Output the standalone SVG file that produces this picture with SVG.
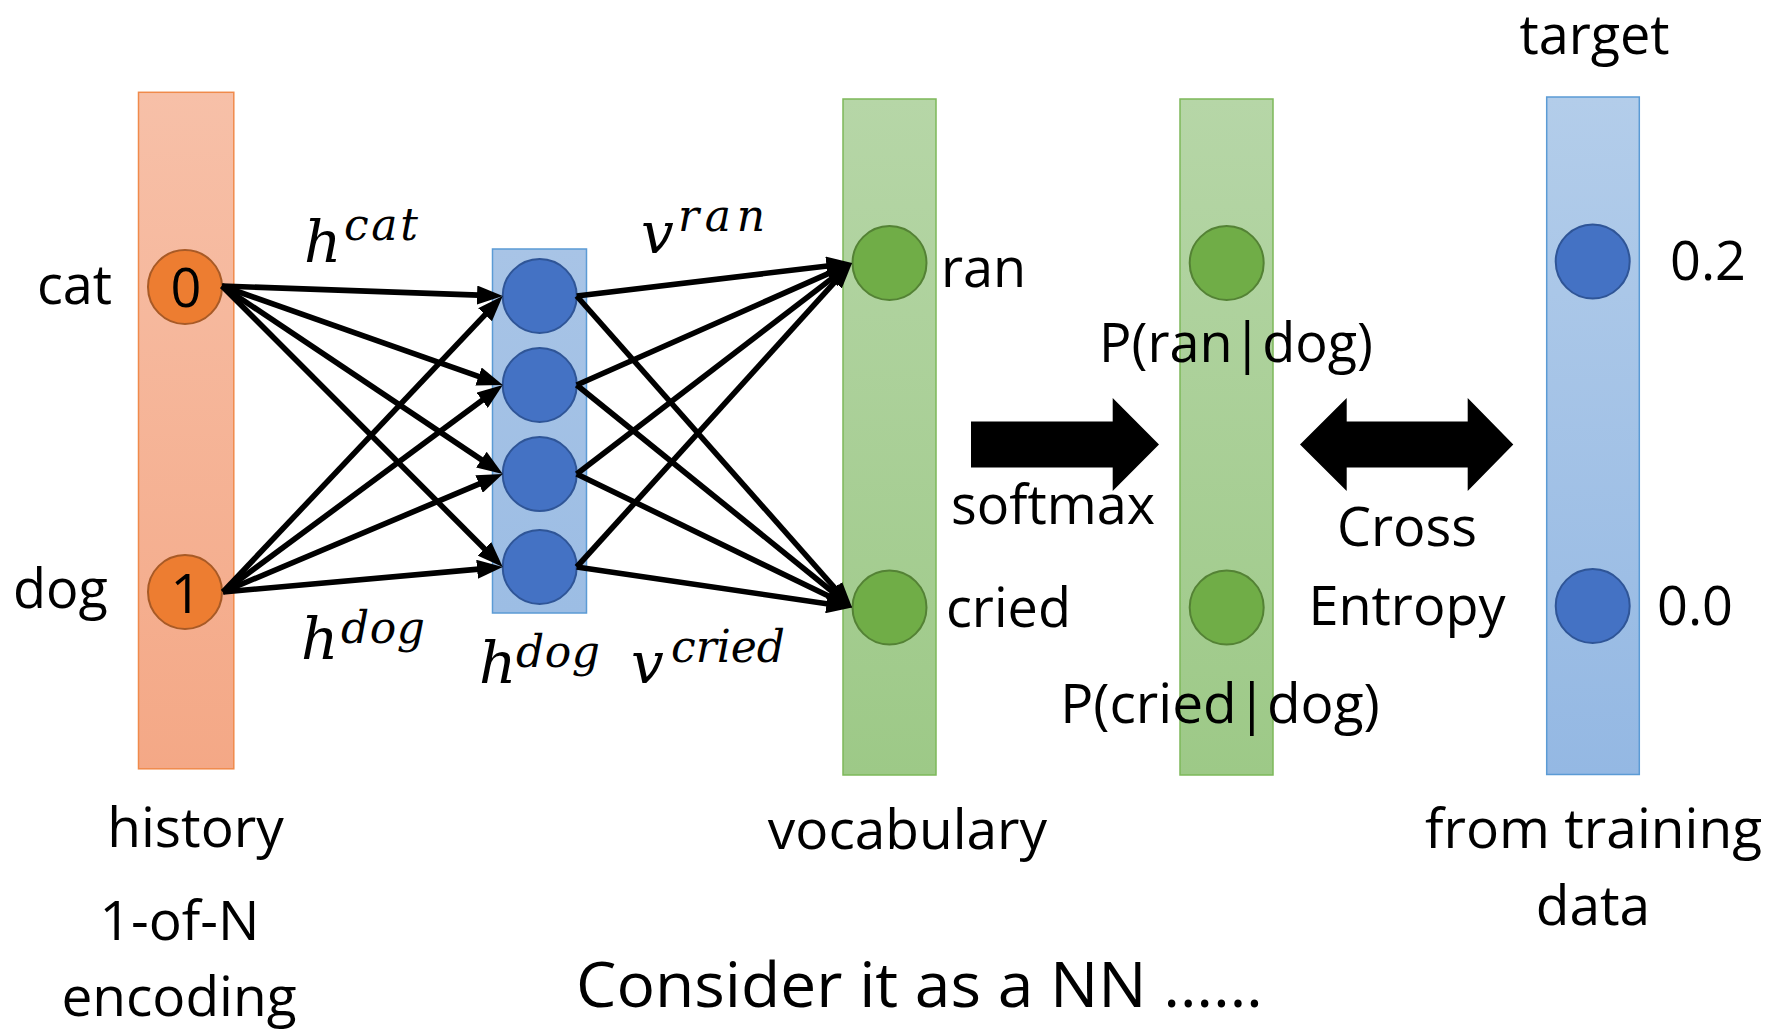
<svg xmlns="http://www.w3.org/2000/svg" width="1767" height="1029" viewBox="0 0 1767 1029">
  <defs>
    <linearGradient id="gOrange" x1="0" y1="0" x2="0" y2="1">
      <stop offset="0" stop-color="#F7C0A8"/>
      <stop offset="1" stop-color="#F4A886"/>
    </linearGradient>
    <linearGradient id="gGreen" x1="0" y1="0" x2="0" y2="1">
      <stop offset="0" stop-color="#B6D6A7"/>
      <stop offset="1" stop-color="#9DC987"/>
    </linearGradient>
    <linearGradient id="gBlue" x1="0" y1="0" x2="0" y2="1">
      <stop offset="0" stop-color="#B3CDEA"/>
      <stop offset="1" stop-color="#94B8E3"/>
    </linearGradient>
    <linearGradient id="gHidden" x1="0" y1="0" x2="0" y2="1">
      <stop offset="0" stop-color="#A8C4E6"/>
      <stop offset="1" stop-color="#9CBDE4"/>
    </linearGradient>
    <marker id="head" viewBox="0 0 4.6 3.4" markerWidth="4.6" markerHeight="3.4" refX="2.8" refY="1.7" orient="auto" markerUnits="strokeWidth">
      <path d="M0,0 L4.6,1.7 L0,3.4 z" fill="#000"/>
    </marker>
  </defs>
  <style>
    .lbl { font-family: "Open Sans", "Noto Sans", sans-serif; font-size: 54px; fill: #000; }
    .cap { font-family: "Open Sans", "Noto Sans", sans-serif; font-size: 55px; fill: #000; }
    .mid { text-anchor: middle; }
    .math { font-family: "DejaVu Serif", "Liberation Serif", serif; font-style: italic; fill: #000; }
    .base { font-size: 58px; }
    .sup { font-size: 44px; }
    .bar-o { fill: url(#gOrange); stroke: #F08A4B; stroke-width: 1.5; }
    .bar-g { fill: url(#gGreen); stroke: #7DB85A; stroke-width: 1.5; }
    .bar-b { fill: url(#gBlue); stroke: #5B9BD5; stroke-width: 1.5; }
    .bar-h { fill: url(#gHidden); stroke: #5B9BD5; stroke-width: 1.5; }
    .c-o { fill: #ED7D31; stroke: #A85A26; stroke-width: 2; }
    .c-b { fill: #4472C4; stroke: #2F5597; stroke-width: 2; }
    .c-g { fill: #70AD47; stroke: #548235; stroke-width: 2; }
    .conn line { stroke: #000; stroke-width: 5.6; marker-end: url(#head); }
    .block { fill: #000; }
  </style>

  <!-- input layer: 1-of-N history encoding -->
  <g id="history">
    <rect class="bar-o" x="138.5" y="92.3" width="95.3" height="676.5"/>
    <g id="in-cat">
      <circle class="c-o" cx="185" cy="287" r="37"/>
      <text class="lbl mid" x="186" y="307">0</text>
      <text class="lbl" x="37" y="304">cat</text>
    </g>
    <g id="in-dog">
      <circle class="c-o" cx="185" cy="592" r="37"/>
      <text class="lbl mid" x="186" y="613">1</text>
      <text class="lbl" x="13" y="608">dog</text>
    </g>
    <text class="cap mid" x="195.5" y="847">history</text>
    <text class="cap mid" x="179.5" y="940">1-of-N</text>
    <text class="cap mid" x="179" y="1016">encoding</text>
  </g>

  <!-- hidden layer -->
  <g id="hidden">
    <rect class="bar-h" x="492.5" y="249" width="94" height="364"/>
    <circle class="c-b" cx="539.7" cy="296" r="37"/>
    <circle class="c-b" cx="539.7" cy="385" r="37"/>
    <circle class="c-b" cx="539.7" cy="474" r="37"/>
    <circle class="c-b" cx="539.7" cy="567" r="37"/>
    <text class="math"><tspan class="base" x="479" y="683">h</tspan><tspan class="sup" x="516" y="667" textLength="84" lengthAdjust="spacing">dog</tspan></text>
  </g>

  <!-- output layer: vocabulary -->
  <g id="vocabulary">
    <rect class="bar-g" x="843" y="99" width="93" height="676"/>
    <circle class="c-g" cx="889.5" cy="263" r="37"/>
    <circle class="c-g" cx="889.5" cy="607.5" r="37"/>
    <text class="lbl" x="941" y="287">ran</text>
    <text class="lbl" x="946" y="627">cried</text>
    <text class="cap mid" x="907.5" y="849">vocabulary</text>
  </g>

  <!-- softmax probabilities -->
  <g id="probabilities">
    <rect class="bar-g" x="1180" y="99" width="93" height="676"/>
    <circle class="c-g" cx="1226.7" cy="263" r="37"/>
    <circle class="c-g" cx="1226.7" cy="607.5" r="37"/>
    <text class="lbl mid" x="1236" y="362">P(ran|dog)</text>
    <text class="lbl mid" x="1220" y="723" style="font-size:55px">P(cried|dog)</text>
  </g>

  <!-- target distribution -->
  <g id="target">
    <rect class="bar-b" x="1546.7" y="97" width="92.6" height="677.5"/>
    <circle class="c-b" cx="1592.7" cy="261.5" r="37"/>
    <circle class="c-b" cx="1592.7" cy="606" r="37"/>
    <text class="lbl mid" x="1594.5" y="54">target</text>
    <text class="lbl" x="1670" y="280">0.2</text>
    <text class="lbl" x="1657" y="625">0.0</text>
    <text class="cap mid" x="1593.5" y="848">from training</text>
    <text class="cap mid" x="1593" y="925">data</text>
  </g>

  <!-- softmax step -->
  <g id="softmax">
    <polygon class="block" points="971,421.5 1112.7,421.5 1112.7,398 1159,444.5 1112.7,491 1112.7,467.5 971,467.5"/>
    <text class="lbl mid" x="1053" y="524">softmax</text>
  </g>

  <!-- cross entropy between prediction and target -->
  <g id="cross-entropy">
    <polygon class="block" points="1300,444.5 1346.7,398 1346.7,421.5 1467.7,421.5 1467.7,398 1513.3,444.5 1467.7,491 1467.7,467.5 1346.7,467.5 1346.7,491"/>
    <text class="lbl mid" x="1407" y="546">Cross</text>
    <text class="lbl mid" x="1407" y="625">Entropy</text>
  </g>

  <!-- weights -->
  <g id="connectors" class="conn">
    <line x1="222" y1="286" x2="492.7" y2="295.6"/>
    <line x1="222" y1="286" x2="493.3" y2="381.7"/>
    <line x1="222" y1="286" x2="494.4" y2="468.4"/>
    <line x1="222" y1="286" x2="495.6" y2="559.9"/>
    <line x1="223" y1="592" x2="495.8" y2="303.3"/>
    <line x1="223" y1="592" x2="494.7" y2="390.9"/>
    <line x1="223" y1="592" x2="493.5" y2="477.9"/>
    <line x1="223" y1="592" x2="492.7" y2="567.9"/>
    <line x1="576.7" y1="296" x2="842.1" y2="264.2"/>
    <line x1="576.7" y1="385" x2="842.9" y2="267.1"/>
    <line x1="576.7" y1="474" x2="844.1" y2="269.1"/>
    <line x1="576.7" y1="567" x2="845.3" y2="270.4"/>
    <line x1="576.7" y1="296" x2="845.4" y2="600.0"/>
    <line x1="576.7" y1="385" x2="844.2" y2="601.2"/>
    <line x1="576.7" y1="474" x2="843.0" y2="603.1"/>
    <line x1="576.7" y1="567" x2="842.1" y2="606.0"/>
  </g>

  <!-- weight labels -->
  <g id="weight-labels" class="math">
    <text><tspan class="base" x="304" y="262">h</tspan><tspan class="sup" x="344" y="240" textLength="74" lengthAdjust="spacing">cat</tspan></text>
    <text><tspan class="base" x="301" y="659">h</tspan><tspan class="sup" x="341" y="643" textLength="84" lengthAdjust="spacing">dog</tspan></text>
    <text><tspan class="base" x="641" y="253">v</tspan><tspan class="sup" x="678" y="231" textLength="87" lengthAdjust="spacing">ran</tspan></text>
    <text><tspan class="base" x="631" y="683">v</tspan><tspan class="sup" x="671" y="662" textLength="114" lengthAdjust="spacing">cried</tspan></text>
  </g>

  <text class="cap" x="576" y="1007" style="font-size:63px" textLength="687" lengthAdjust="spacingAndGlyphs">Consider it as a NN ……</text>
</svg>
